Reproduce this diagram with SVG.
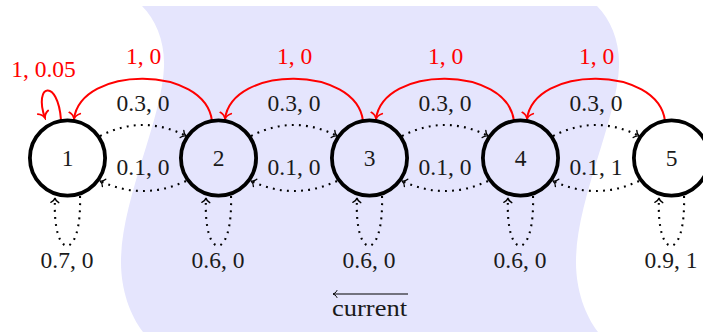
<svg xmlns="http://www.w3.org/2000/svg" width="703" height="332" viewBox="0 0 703 332">
<style>
.node circle{fill:none;stroke:#000;stroke-width:3.8}
text{font-family:"Liberation Serif","Times New Roman",serif;font-size:23.5px;text-anchor:middle;fill:#1a1a1a}
.red{fill:#ff0000}
.dot{fill:none;stroke:#000;stroke-width:2.1;stroke-dasharray:1.9 5.2;marker-end:url(#bto)}
.rarc{fill:none;stroke:#ff0000;stroke-width:2;marker-end:url(#rto)}
</style>
<defs>
<marker id="rto" viewBox="-8 -7 10 14" markerWidth="10" markerHeight="14" refX="0" refY="0" orient="auto" markerUnits="userSpaceOnUse">
<path d="M-6,-5.5 C-4.5,-2 -1.5,-0.4 0,0 C-1.5,0.4 -4.5,2 -6,5.5" fill="none" stroke="#ff0000" stroke-width="1.8" stroke-linecap="round"/>
</marker>
<marker id="bto" viewBox="-7 -6 9 12" markerWidth="9" markerHeight="12" refX="0" refY="0" orient="auto" markerUnits="userSpaceOnUse">
<path d="M-4.5,-4 C-3.2,-1.5 -1.2,-0.3 0,0 C-1.2,0.3 -3.2,1.5 -4.5,4" fill="none" stroke="#000" stroke-width="1.4" stroke-linecap="round"/>
</marker>
<marker id="lto" viewBox="-7 -6 9 12" markerWidth="9" markerHeight="12" refX="0" refY="0" orient="auto" markerUnits="userSpaceOnUse">
<path d="M-4,-3.5 C-3,-1.3 -1,-0.3 0,0 C-1,0.3 -3,1.3 -4,3.5" fill="none" stroke="#000" stroke-width="1" stroke-linecap="round"/>
</marker>
</defs>
<rect width="703" height="332" fill="#fff"/>
<path id="region" d="M142,6 L597,6 C611,20 620,42 619,67 C617,120 576,200 576,262 C576,290 585,315 598,332 L598,340 L143,340 L143,332 C130,315 121,290 121,262 C121,200 162,120 164,67 C165,42 156,20 142,6 Z" fill="#e5e5fd"/>
<g id="connectors">
<path class="rarc" d="M61,120 C58,78 33,84 45,118"/>
<path class="rarc" d="M212,121 C205,65 81,65 74,119"/>
<path class="rarc" d="M363,121 C356,65 232,65 225,119"/>
<path class="rarc" d="M514,121 C507,65 383,65 376,119"/>
<path class="rarc" d="M665,121 C658,65 534,65 527,119"/>
<path class="dot" d="M100,136 Q143,114 186,136"/>
<path class="dot" d="M251,136 Q294,114 337,136"/>
<path class="dot" d="M402,136 Q445,114 488,136"/>
<path class="dot" d="M553,136 Q596,114 639,136"/>
<path class="dot" d="M186,181 Q143,201 100,181"/>
<path class="dot" d="M337,181 Q294,201 251,181"/>
<path class="dot" d="M488,181 Q445,201 402,181"/>
<path class="dot" d="M639,181 Q596,201 553,181"/>
<path class="dot" d="M80,196 C82,262 52,262 55,198"/>
<path class="dot" d="M231,196 C233,262 203,262 206,198"/>
<path class="dot" d="M382,196 C384,262 354,262 357,198"/>
<path class="dot" d="M533,196 C535,262 505,262 508,198"/>
<path class="dot" d="M684,196 C686,262 656,262 659,198"/>
</g>
<g id="labels">
<text class="red" x="43.5" y="77">1, 0.05</text>
<text class="red" x="143.5" y="64">1, 0</text>
<text class="red" x="294.5" y="64">1, 0</text>
<text class="red" x="445.5" y="64">1, 0</text>
<text class="red" x="596.5" y="64">1, 0</text>
<text x="143" y="111">0.3, 0</text>
<text x="294" y="111">0.3, 0</text>
<text x="445" y="111">0.3, 0</text>
<text x="596" y="111">0.3, 0</text>
<text x="143" y="175">0.1, 0</text>
<text x="294" y="175">0.1, 0</text>
<text x="445" y="175">0.1, 0</text>
<text x="596" y="175">0.1, 1</text>
<text x="67" y="268">0.7, 0</text>
<text x="218" y="268">0.6, 0</text>
<text x="369" y="268">0.6, 0</text>
<text x="520" y="268">0.6, 0</text>
<text x="671" y="268">0.9, 1</text>
</g>
<g id="n1" class="node"><circle cx="67.5" cy="158" r="37.6"/><text x="67.5" y="166">1</text></g>
<g id="n2" class="node"><circle cx="218.5" cy="158" r="37.6"/><text x="218.5" y="166">2</text></g>
<g id="n3" class="node"><circle cx="369.5" cy="158" r="37.6"/><text x="369.5" y="166">3</text></g>
<g id="n4" class="node"><circle cx="520.5" cy="158" r="37.6"/><text x="520.5" y="166">4</text></g>
<g id="n5" class="node"><circle cx="671.5" cy="158" r="37.6"/><text x="671.5" y="166">5</text></g>
<g id="current">
<path d="M408,294 L333,294" fill="none" stroke="#000" stroke-width="1.2" marker-end="url(#lto)"/>
<text x="369.5" y="316" textLength="75" lengthAdjust="spacingAndGlyphs">current</text>
</g>
</svg>
